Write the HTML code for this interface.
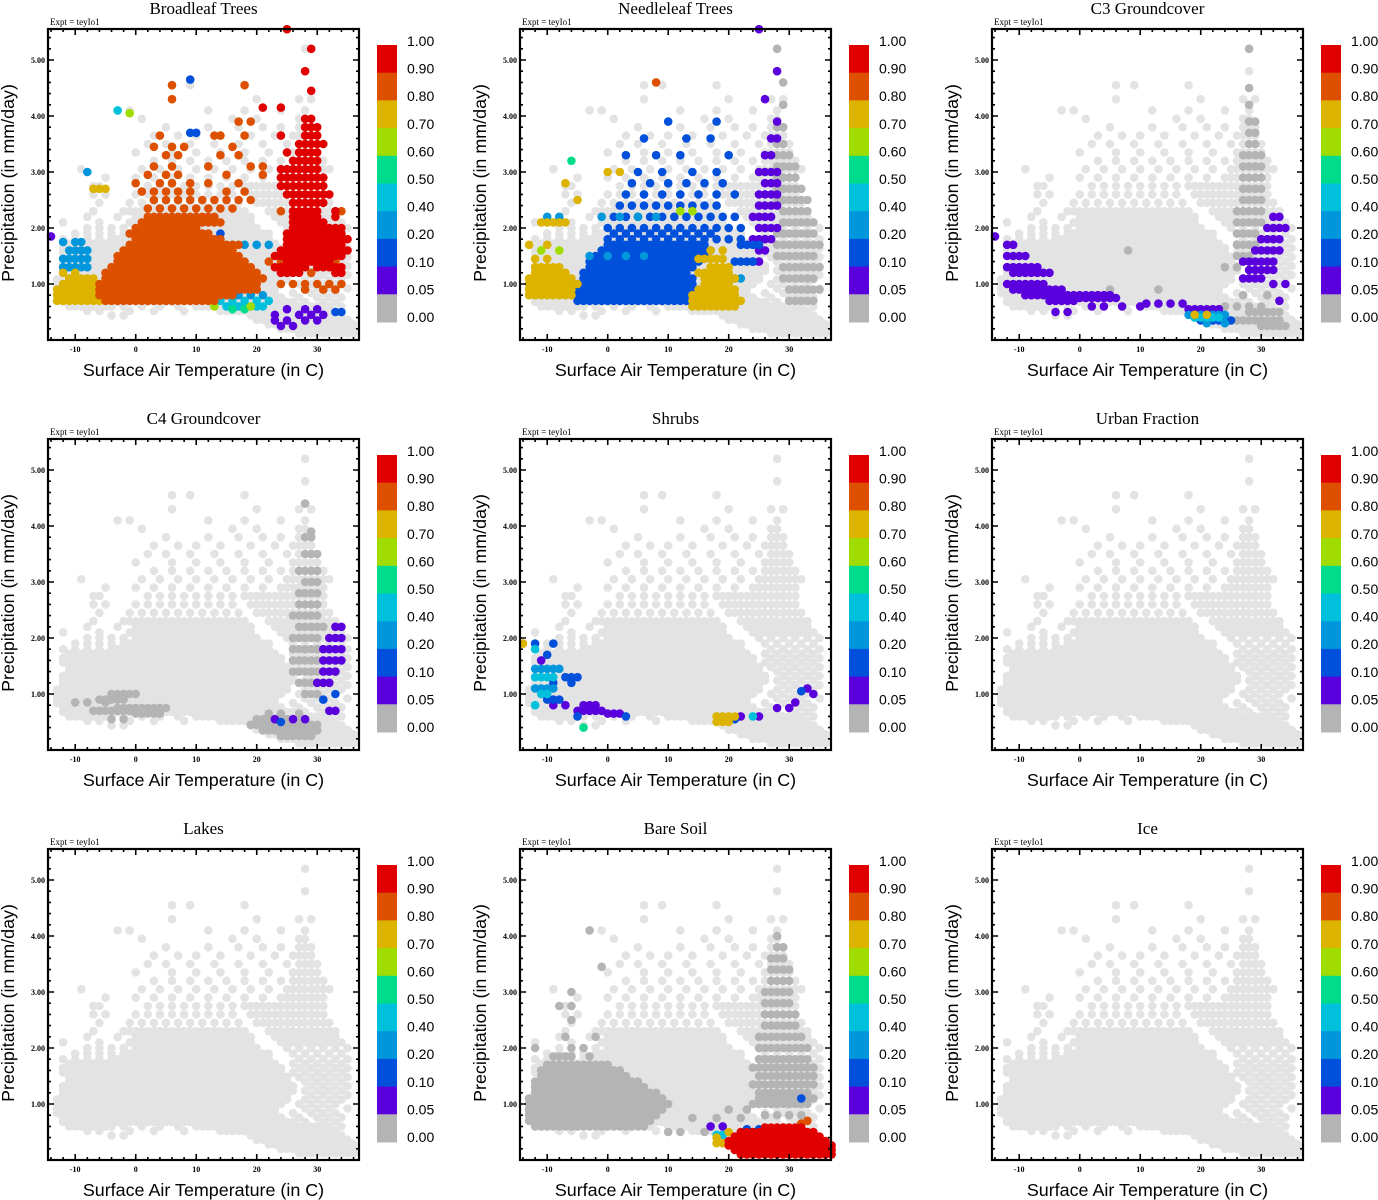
<!DOCTYPE html>
<html><head><meta charset="utf-8">
<style>
html,body{margin:0;padding:0;background:#fff;}
svg{display:block;}
</style></head>
<body>
<svg id="chart" xmlns="http://www.w3.org/2000/svg" width="1378" height="1200" viewBox="0 0 1378 1200"></svg>
<script>
// ---- data ----
const panelTitles = ["Broadleaf Trees","Needleleaf Trees","C3 Groundcover","C4 Groundcover","Shrubs","Urban Fraction","Lakes","Bare Soil","Ice"];
const xTicks = [-10,0,10,20,30];
const yTicks = [1,2,3,4,5];
const yTickLabels = ["1.00","2.00","3.00","4.00","5.00"];
const cbarLabels = ["1.00","0.90","0.80","0.70","0.60","0.50","0.40","0.20","0.10","0.05","0.00"];
const cbarClasses = ["R","O","Y","G","T","C","L","B","V","D"];
const classColors = {R:"#e00000",O:"#dc5000",Y:"#dcb400",G:"#a0dc00",T:"#00dc8c",C:"#00c0dc",L:"#0096dc",B:"#0050dc",V:"#5a00dc",D:"#b4b4b4"};
const bgColor = "#e3e3e3";

const bgRows = ["0.12:27..36","0.2:24..36","0.28:22..36","0.36:20..35","0.44:-4,-2,19..34",
"0.52:-8,-6,-1,3,8,14..33","0.6:-11..-4,-2,1,4,7,10..32,34","0.68:-12..26,28,31,33",
"0.76:-12..24,27,30,32,34","0.84:-13..23,26,29,31,33","0.92:-13..23,28,30,32,35",
"1.0:-13..24,27,29,31,33","1.08:-13..25,28,30,32,34","1.16:-12..25,29,31,33,35",
"1.24:-12..26,28,30,32,34","1.32:-12..26,29,31,33,35","1.4:-11..25,28,30,32,34",
"1.48:-11..25,27,29,31,33,35","1.56:-12..24,26..34/2","1.64:-12..24,27..35/2",
"1.72:-11..23,26..34/2","1.8:-12..-6/2,-4..22,27..35/2","1.9:-10..-4/2,-2..22,26..34/2",
"2.0:-8..-2/2,0..20,25..35/2","2.1:-12,-6,-1..19,24..34","2.2:-8,-3,0..19,23..33",
"2.3:-7,-2..18,22..33","2.45:-6,-1..18/2,20..32","2.6:-7,-5,0..16/2,19..31",
"2.75:-7,-6,2..16/2,18..31","2.9:-5,0..22/3,24..31","3.05:-9,1..24/3,25..32",
"3.2:3..24/3,26..31","3.35:0,6..26/4,27..30","3.5:2,5..25/4,27..30",
"3.65:3,7,10,14,19,23,26..29","3.8:5,12,17,21,24,27..29","3.95:1,16,20,27,28",
"4.1:-3,-1,12,18,24,28","4.3:6,20,27,29","4.55:6,9,18","4.8:28","5.2:28"];

const broadleafRows = ["Y 0.7:-13..-5","Y 0.8:-13..-4","Y 0.9:-13..-5","Y 1.0:-12..-6","Y 1.1:-11..-7","Y 1.2:-12,-10","Y 2.7:-7,-6,-5",
"L 1.3:-12..-8","L 1.45:-12..-8","L 1.6:-11..-8","L 1.75:-12,-10,-9",
"O 0.7:-5..13","O 0.8:-6..16","O 0.9:-6..20","O 1.0:-6..20","O 1.1:-5..21","O 1.2:-5..20","O 1.3:-4..19","O 1.4:-3..18",
"O 1.5:-3..17","O 1.6:-2..16","O 1.7:-1..17","O 1.8:0..14","O 1.9:-1..12","O 2.0:0..10","O 2.1:1..14","O 2.2:2..13",
"O 2.35:2..12/2,14,16","O 2.5:3..11/2,13..19/2","O 2.65:1..9/2,15,18","O 2.8:0,4,6,9,12,17","O 2.95:2,5,7,15,21",
"O 3.1:3,6,12,19,21","O 3.3:5,7,14,17","O 3.45:3,6,8,16","O 3.65:4,13,14,18","O 3.9:17,19","O 4.3:6","O 4.55:6,18",
"O 0.9:28,31,33","O 1.0:24..34/2","O 1.2:25,29,33","O 1.4:22,24,33","O 2.3:24,34",
"R 1.2:24..27,33,34","R 1.3:23..28,30..34","R 1.4:25..32","R 1.5:23..34","R 1.6:24..35","R 1.7:25..34","R 1.8:25..35",
"R 1.9:25..34","R 2.0:26..34","R 2.1:26..31","R 2.2:26..30,33","R 2.3:26..30,33","R 2.45:26..31","R 2.6:25..32",
"R 2.75:24..31","R 2.9:24..31","R 3.05:24..30","R 3.2:26..30","R 3.35:25,27..30","R 3.5:27..31","R 3.65:24,28..30",
"R 3.8:28..30","R 3.95:28,29","R 4.15:21,24","R 4.45:29","R 4.8:28","R 5.2:29","R 5.55:25",
"L 0.8:13..21/2","C 0.7:14..22/2","C 0.6:15..21","T 0.55:16,18","G 0.6:13,19","B 1.6:9..14/2","L 1.5:10..16/2",
"L 1.7:16..22/2","B 1.9:11,14","B 3.7:9,10","B 4.65:9","C 4.1:-3","G 4.05:-1","L 3.0:-8",
"V 0.55:25,28,30","V 0.45:23,27,29,31","V 0.35:23,25,28,30","V 0.25:24,26","B 0.5:33,34","V 1.85:-14"];

const needleleafRows = ["Y 0.8:-13..-6","Y 0.9:-13..-6","Y 1.0:-13..-5","Y 1.1:-13..-6","Y 1.2:-12..-7","Y 1.3:-12..-8",
"Y 1.45:-12,-10","Y 1.7:-13,-10","G 1.6:-11,-8","Y 2.1:-11..-7","L 2.2:-10,-8","Y 2.8:-7",
"B 0.7:-5..15","B 0.8:-5..14","B 0.9:-5..15","B 1.0:-5..14","B 1.1:-4..14","B 1.2:-4..13","B 1.3:-3..14","B 1.4:-3..15",
"B 1.5:-2..16","B 1.6:-1..17","B 1.7:0..16","B 1.8:0..22/2","B 1.9:1..17/2","B 2.0:0..22/2","B 2.2:1..21/2","B 2.4:2..18/2",
"B 2.6:3..21/3","B 2.8:4..20/3","B 3.0:5,9,14,18","B 3.3:3,8,12,20","B 3.6:6,13,17","B 3.9:10,18","L 1.5:-3..6/3","L 2.2:-1..10/3",
"Y 0.6:14..21","Y 0.7:14..22","Y 0.8:14..21","Y 0.9:15..21","Y 1.0:16..20","Y 1.1:16..21","Y 1.2:15..20","Y 1.3:17..20",
"Y 1.45:15..19","Y 1.6:17,19","G 0.8:16,19","L 1.1:21,22","G 2.3:12,14","Y 3.0:0,2","O 4.6:8","T 3.2:-6","Y 2.5:-5",
"B 1.4:21..24","B 1.7:22..25",
"V 1.4:24,25","V 1.6:25,26","V 1.8:24..27","V 2.0:25..28","V 2.2:24..27","V 2.4:25..28","V 2.6:25..28","V 2.8:26..28",
"V 3.0:25..28","V 3.3:26,27","V 3.6:27,28","V 3.9:28","V 4.3:26","V 4.8:28","V 5.55:25",
"D 1.5:28..34","D 1.7:28..35","D 1.9:28..34","D 2.1:29..34","D 2.3:29..33","D 2.5:28..33","D 2.7:28..32","D 2.9:28..31",
"D 3.1:28..31","D 3.3:28..30","D 3.5:28,29","D 3.8:28,29","D 4.2:29","D 4.6:29","D 5.2:28","D 1.3:29..35","D 1.1:29..34",
"D 0.9:30..35","D 0.7:30..34"];

const c3Rows = ["V 1.85:-14","V 1.7:-12,-11","V 1.5:-12..-9","V 1.3:-12..-7","V 1.2:-11..-5","V 1.0:-12..-6","V 0.9:-11..-3",
"V 0.8:-9..5","V 0.75:-3..6","V 0.7:-5..-1","V 0.6:2,4,7,10","V 0.65:11..17/2","V 0.5:-4,-2","V 0.55:18..23",
"L 0.45:18..24","C 0.4:19..23","Y 0.45:19,21","B 0.35:20..25","L 0.3:21,24",
"D 0.6:24..30/2","D 0.5:28..33","D 0.35:26..33","D 0.25:30..34","D 0.8:27,31",
"D 1.5:26..28","D 1.7:26..29","D 1.9:26..29","D 2.1:26..30","D 2.3:26..30","D 2.5:27..30","D 2.7:27..30","D 2.9:27..30",
"D 3.1:27..30","D 3.3:27..30","D 3.5:28,29","D 3.7:28,29","D 3.9:28,29","D 4.2:28","D 4.5:28","D 5.2:28","D 1.3:24,26",
"D 0.9:5,13","D 1.6:8",
"V 1.1:27..30","V 1.25:28..32","V 1.4:27..32","V 1.6:29..33","V 1.8:30..33","V 2.0:31..34","V 2.2:32,33","V 1.0:32,34","V 0.7:33"];

const c4Rows = ["D 0.85:-10,-8,-5","D 0.7:-7..-1","D 0.75:-3..5","D 0.65:0..4","D 0.55:-4,-2","D 0.9:-6..-2","D 1.0:-4..0",
"D 0.55:20..28","D 0.45:19..30","D 0.35:21..30","D 0.65:22,24,27","D 0.25:24..29",
"D 1.2:27..30","D 1.4:26..30","D 1.6:26..30","D 1.8:26..30","D 2.0:26..30","D 2.2:27..31","D 2.4:26..30","D 2.6:27..30",
"D 2.8:27..30","D 3.0:28..30","D 3.2:27..30","D 3.5:28..30","D 3.8:28,29","D 3.9:29","D 4.4:28","D 1.0:28..30",
"V 2.2:33,34","V 2.0:32..34","V 1.8:31..34","V 1.6:31..34","V 1.4:31..33","V 1.2:30..32","V 0.7:32,33","B 1.0:33","B 0.9:31",
"V 0.55:23,26,28","B 0.5:24"];

const shrubRows = ["B 1.9:-12,-9","C 1.8:-12","B 1.7:-10","V 1.6:-11","L 1.45:-12..-8","C 1.3:-12..-9","B 1.3:-7..-5","B 1.2:-9,-6",
"L 1.1:-12..-9","C 1.0:-11,-10","B 0.9:-10..-8","V 0.8:-9,-7","C 0.8:-12","T 0.4:-4","V 0.7:-5..-1","V 0.65:0..2",
"V 0.8:-4..-2","B 0.6:-5,3","Y 1.9:-14",
"Y 0.6:18..21","Y 0.5:18..20","V 0.6:22,25","B 0.55:21","C 0.6:24","V 0.75:28,30","V 0.85:31","V 1.1:33","B 1.05:32","V 1.0:34"];

const urbanRows = [];
const lakeRows = [];
const iceRows = [];

const bareSoilRows = ["D 0.6:-12..6","D 0.7:-13..7","D 0.8:-13..8","D 0.9:-13..9","D 1.0:-13..10","D 1.1:-13..9","D 1.2:-12..8",
"D 1.3:-12..6","D 1.4:-12..5","D 1.5:-11..3","D 1.6:-11..2","D 1.7:-10..0","D 1.85:-9..-6,-3","D 2.0:-12,-6,-4","D 2.2:-7,-2",
"D 2.5:-6","D 2.75:-8,-6","D 3.0:-6","D 4.1:-3","D 3.45:-1","D 0.5:10,12,16","D 0.75:14,18,22","D 0.9:20,23",
"D 1.0:24..33","D 1.1:25..34","D 1.2:25..33","D 1.35:24..34","D 1.5:25..34","D 1.65:24..34","D 1.8:25..33","D 2.0:25..33",
"D 2.2:25..32","D 2.4:26..31","D 2.6:26..31","D 2.8:26..30","D 3.0:26..30","D 3.2:27..30","D 3.4:27..30","D 3.6:27..29",
"D 3.8:28,29","D 4.0:28","D 0.8:26..32/2",
"R 0.1:22..37","R 0.18:21..37","R 0.26:20..37","R 0.34:20..36","R 0.42:21..35","R 0.5:22..34","R 0.58:26..32",
"O 0.65:32","O 0.7:33","Y 0.3:18,19","Y 0.4:18","C 0.45:18,19","B 0.55:23,25","V 0.6:17,19","Y 0.5:20","B 1.1:32"];

const panelRows = [broadleafRows,needleleafRows,c3Rows,c4Rows,shrubRows,urbanRows,lakeRows,bareSoilRows,iceRows];

// ---- layout ----
const NS = "http://www.w3.org/2000/svg";
const svg = document.getElementById("chart");
const BOX_L = 48, BOX_T = 29, BOX_W = 311, BOX_H = 311, DX = 472, DY = 410;
const TMIN = -14.5, TMAX = TMIN + BOX_W/6.05, PMAX = BOX_H/56;

function mk(tag, attrs, parent){
  const e = document.createElementNS(NS, tag);
  for (const k in attrs) e.setAttribute(k, attrs[k]);
  (parent||svg).appendChild(e);
  return e;
}
function expandItems(str){
  const out = [];
  str.split(",").forEach(it => {
    it = it.trim();
    if (it.indexOf("..") > 0) {
      let step = 1, rng = it;
      if (it.indexOf("/") > 0) { step = parseFloat(it.split("/")[1]); rng = it.split("/")[0]; }
      const m = rng.match(/^(-?[\d.]+)\.\.(-?[\d.]+)$/);
      const a = parseFloat(m[1]), b = parseFloat(m[2]);
      for (let t = a; t <= b + 1e-9; t += step) out.push(t);
    } else out.push(parseFloat(it));
  });
  return out;
}
function parseRow(row){
  let cls = null, rest = row;
  if (/^[A-Z] /.test(row)) { cls = row[0]; rest = row.slice(2); }
  const p = parseFloat(rest.split(":")[0]);
  return {cls, p, ts: expandItems(rest.split(":")[1])};
}

for (let i = 0; i < 9; i++) {
  const col = i % 3, rowI = Math.floor(i / 3);
  const ox = BOX_L + col*DX, oy = BOX_T + rowI*DY;
  const xS = t => ox + (t - TMIN) * 6.05;
  const yS = p => oy + BOX_H - p * 56;
  const g = mk("g", {});
  
  

  const title = mk("text", {x: ox + BOX_W/2, y: oy - 15, "text-anchor":"middle", "font-family":"Liberation Serif, serif", "font-size":"17"}, g);
  title.textContent = panelTitles[i];
  
  
  const ex = mk("text", {x: ox + 2, y: oy - 4, "font-family":"Liberation Serif, serif", "font-size":"9"}, g);
  ex.textContent = "Expt = teyIo1";
  
  

  const bgG = mk("g", {fill: bgColor}, g);
  
  
  bgRows.forEach(r => {
    const pr = parseRow(r);
    pr.ts.forEach(t => {
      const c = mk("circle", {cx: xS(t).toFixed(1), cy: yS(pr.p).toFixed(1), r: 4.3}, bgG);
      
      
    });
  });
  const order = ["D","V","B","L","C","T","G","Y","O","R"];
  const rows = panelRows[i].map(parseRow);
  const ptG = mk("g", {}, g);
  
  
  order.forEach(cl => {
    rows.filter(r => r.cls === cl).forEach(pr => {
      pr.ts.forEach(t => {
        const c = mk("circle", {cx: xS(t).toFixed(1), cy: yS(pr.p).toFixed(1), r: 4.3, fill: classColors[cl]}, ptG);
        
        
      });
    });
  });

  const fr = mk("rect", {x: ox, y: oy, width: BOX_W, height: BOX_H, fill: "none", stroke: "#000", "stroke-width": 2.2}, g);
  
  
  let d = "";
  for (let t = -14; t <= TMAX; t += 2) {
    const x = xS(t), L = (t % 10 === 0) ? 6 : 3;
    d += `M${x},${oy+BOX_H}v${-L}M${x},${oy}v${L}`;
  }
  for (let k = 1; k * 0.2 < PMAX; k++) {
    const p = k * 0.2, y = yS(p), L = (k % 5 === 0) ? 6 : 3;
    d += `M${ox},${y}h${L}M${ox+BOX_W},${y}h${-L}`;
  }
  const tk = mk("path", {d, stroke:"#000", "stroke-width":1.6, fill:"none"}, g);
  
  
  xTicks.forEach(t => {
    const tx = mk("text", {x: xS(t), y: oy + BOX_H + 12, "text-anchor":"middle", "font-family":"Liberation Serif, serif", "font-size":"8", "font-weight":"bold"}, g);
    tx.textContent = String(t);
    
    
  });
  yTicks.forEach((p, j) => {
    const tx = mk("text", {x: ox - 3, y: yS(p) + 3, "text-anchor":"end", "font-family":"Liberation Serif, serif", "font-size":"8", "font-weight":"bold"}, g);
    tx.textContent = yTickLabels[j];
    
    
  });
  const xt = mk("text", {x: ox + BOX_W/2, y: oy + BOX_H + 36, "text-anchor":"middle", "font-family":"Liberation Sans, sans-serif", "font-size":"17.9"}, g);
  xt.textContent = "Surface Air Temperature (in C)";
  
  
  const yt = mk("text", {x: 0, y: 0, "text-anchor":"middle", "font-family":"Liberation Sans, sans-serif", "font-size":"17.9",
    transform:`translate(${ox-34},${oy + 154}) rotate(-90)`}, g);
  yt.textContent = "Precipitation (in mm/day)";
  
  

  const cbx = ox + 329, cby = oy + 16, ch = 27.7;
  const cb = mk("g", {}, g);
  
  
  cbarClasses.forEach((cl, j) => {
    const r = mk("rect", {x: cbx, y: (cby + j*ch).toFixed(1), width: 20, height: ch + 0.5, fill: classColors[cl]}, cb);
    
    
  });
  cbarLabels.forEach((lb, j) => {
    const ty = cby + j*(276/10);
    const tx = mk("text", {x: cbx + 30, y: (ty + 1).toFixed(1), "font-family":"Liberation Sans, sans-serif", "font-size":"14"}, cb);
    tx.textContent = lb;
    
    
  });
}
</script>
</body></html>
